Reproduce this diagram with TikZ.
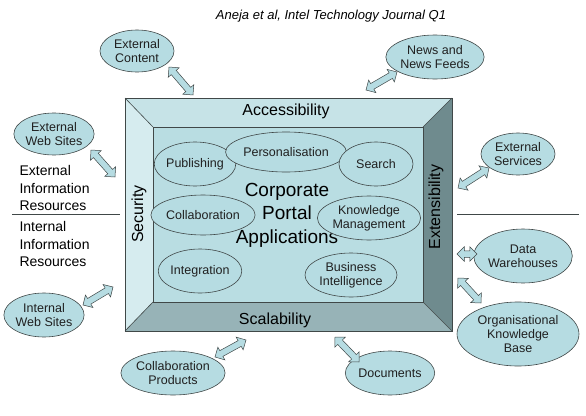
\documentclass[tikz,border=0pt]{standalone}
\usepackage{fontspec}
\setmainfont{Liberation Sans}
\usetikzlibrary{shapes.geometric,shapes.arrows,calc}
\definecolor{ellfill}{HTML}{B6DCE2}
\definecolor{topface}{HTML}{C6E3E7}
\definecolor{leftface}{HTML}{D6ECEF}
\definecolor{innerface}{HTML}{B9DDE2}
\definecolor{botface}{HTML}{97B3B7}
\definecolor{rightface}{HTML}{6F8B8E}
\definecolor{edge}{HTML}{404848}
\definecolor{ink}{HTML}{202020}
\tikzset{
  bubble/.style={ellipse, draw=edge, fill=ellfill, line width=0.6pt, inner sep=0pt,
    align=center, font=\fontsize{12.5}{14}\selectfont, text=ink},
  face/.style={draw=edge, line width=0.6pt},
  barrow/.style={double arrow, draw=edge, fill=ellfill, line width=0.5pt,
    inner xsep=0pt, inner ysep=3pt, double arrow head extend=4pt, anchor=center},
  sidelbl/.style={font=\fontsize{16}{18}\selectfont, text=black},
  infolbl/.style={font=\fontsize{14}{17.5}\selectfont, align=left, anchor=north west, text=black},
}
\newcommand\blockarrow[2]{%
  \path let \p1=($(#2)-(#1)$), \n1={atan2(\y1,\x1)}, \n2={veclen(\x1,\y1)} in
    node[barrow, minimum height=\n2, rotate=\n1] at ($(#1)!0.5!(#2)$) {};}
\begin{document}
\begin{tikzpicture}[x=1pt,y=-1pt]
\useasboundingbox[fill=white] (0,0) rectangle (586,415);
% title
\node[font=\fontsize{13}{15}\selectfont\itshape] (title) at (331,16) {Aneja et al, Intel Technology Journal Q1};
% bevelled box
\coordinate (o1) at (125,98); \coordinate (o2) at (452,98);
\coordinate (o3) at (452,331); \coordinate (o4) at (125,331);
\coordinate (i1) at (153,127); \coordinate (i2) at (423,127);
\coordinate (i3) at (423,302); \coordinate (i4) at (153,302);
\fill[leftface] (o1) -- (i1) -- (i4) -- (o4) -- cycle;
\fill[topface] (o1) -- (o2) -- (i2) -- (i1) -- cycle;
\fill[rightface] (o2) -- (o3) -- (i3) -- (i2) -- cycle;
\fill[botface] (o4) -- (i4) -- (i3) -- (o3) -- cycle;
\fill[innerface] (i1) rectangle (i3);
\draw[face] (o1) rectangle (o3);
\draw[face] (i1) rectangle (i3);
\draw[face] (o1) -- (i1) (o2) -- (i2) (o3) -- (i3) (o4) -- (i4);
\node[sidelbl] (acc) at (286,111) {Accessibility};
\node[sidelbl] (scal) at (275,320) {Scalability};
\node[sidelbl, rotate=90] (sec) at (139,214) {Security};
\node[sidelbl, rotate=90] (ext) at (436,207) {Extensibility};
% center text
\node[align=center, font=\fontsize{19}{23.5}\selectfont] (cpa) at (287,215) {Corporate\\Portal\\Applications};
% inner bubbles
\node[bubble, minimum width=74pt, minimum height=44pt] (pub) at (195,164) {Publishing};
\node[bubble, minimum width=98pt, minimum height=40pt] (pers) at (286,152) {Personalisation};
\node[bubble, minimum width=74pt, minimum height=44pt] (search) at (376,164) {Search};
\node[bubble, minimum width=88pt, minimum height=40pt] (collab) at (203,215) {Collaboration};
\node[bubble, minimum width=98pt, minimum height=44pt] (km) at (369,218) {Knowledge\\Management};
\node[bubble, minimum width=74pt, minimum height=44pt] (integ) at (200,271) {Integration};
\node[bubble, minimum width=92pt, minimum height=44pt] (bi) at (351,275) {Business\\Intelligence};
% outer bubbles
\node[bubble, minimum width=74pt, minimum height=42pt] (extc) at (137,51) {External\\Content};
\node[bubble, minimum width=74pt, minimum height=42pt] (extw) at (54,134) {External\\Web Sites};
\node[bubble, minimum width=84pt, minimum height=44pt] (news) at (435,57) {News and\\News Feeds};
\node[bubble, minimum width=74pt, minimum height=42pt] (exts) at (518,154) {External\\Services};
\node[bubble, minimum width=84pt, minimum height=54pt] (dw) at (523,256) {Data\\Warehouses};
\node[bubble, minimum width=122pt, minimum height=64pt] (okb) at (518,334) {Organisational\\Knowledge\\Base};
\node[bubble, minimum width=75pt, minimum height=44pt] (docs) at (390,373) {Documents};
\node[bubble, minimum width=98pt, minimum height=44pt] (cprod) at (173,373) {Collaboration\\Products};
\node[bubble, minimum width=75pt, minimum height=44pt] (intw) at (44,315) {Internal\\Web Sites};
% info labels
\node[infolbl] (extinfo) at (16,162) {External\\Information\\Resources};
\node[infolbl] (intinfo) at (16,218) {Internal\\Information\\Resources};
\coordinate (sepL1) at (12,214); \coordinate (sepL2) at (120,214);
\coordinate (sepR1) at (457,214); \coordinate (sepR2) at (579,214);
\draw[edge, line width=0.8pt] (sepL1) -- (sepL2);
\draw[edge, line width=0.8pt] (sepR1) -- (sepR2);
% arrow ends
\coordinate (a1) at (169,67);  \coordinate (b1) at (193,95);
\coordinate (a2) at (91,150);  \coordinate (b2) at (115,177);
\coordinate (a3) at (397,72);  \coordinate (b3) at (366,90);
\coordinate (a4) at (489,168); \coordinate (b4) at (458,188);
\coordinate (a5) at (477,254); \coordinate (b5) at (457,254);
\coordinate (a6) at (481,303); \coordinate (b6) at (458,278);
\coordinate (a7) at (359,362); \coordinate (b7) at (335,337);
\coordinate (a8) at (215,357); \coordinate (b8) at (246,340);
\coordinate (a9) at (83,305);  \coordinate (b9) at (113,287);
\blockarrow{a1}{b1}
\blockarrow{a2}{b2}
\blockarrow{a3}{b3}
\blockarrow{a4}{b4}
\blockarrow{a5}{b5}
\blockarrow{a6}{b6}
\blockarrow{a7}{b7}
\blockarrow{a8}{b8}
\blockarrow{a9}{b9}
\end{tikzpicture}
\end{document}
